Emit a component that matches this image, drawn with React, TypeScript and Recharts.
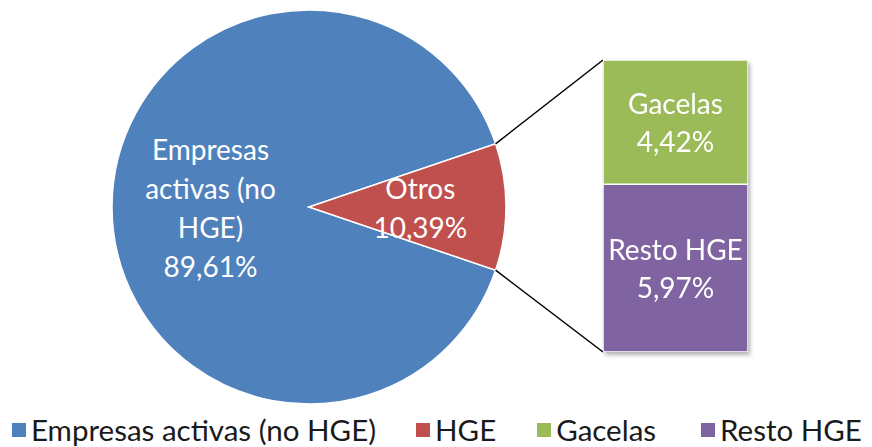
import React from 'react';
import { PieChart, Pie, Cell, BarChart, Bar, XAxis, YAxis, LabelList, Legend } from 'recharts';

const pieNames = ['Empresas activas (no HGE)', 'Otros'];
const pieValues = [89.61, 10.39];
const pieColors = ['#4F81BD', '#C0504D'];

const barNames = ['Gacelas', 'Resto HGE'];
const barValues = [4.42, 5.97];
const barColors = ['#9BBB59', '#8064A2'];

const legendNames = ['Empresas activas (no HGE)', 'HGE', 'Gacelas', 'Resto HGE'];
const legendColors = ['#4F81BD', '#C0504D', '#9BBB59', '#8064A2'];

const FONT = 'Lato, "Open Sans", sans-serif';
const W = 872;
const H = 447;
const CX = 309;
const CY = 207;
const R = 197;
const BAR_X = 603;
const BAR_Y = 60;
const BAR_W = 145;
const BAR_H = 292;

const pieData = pieNames.map((name, i) => ({ name, value: pieValues[i] }));
const barRow = { name: 'Otros', g: barValues[0], r: barValues[1] };
const fmt = (v: number) => v.toFixed(2).replace('.', ',') + '%';

const halfOtros = (pieValues[1] / 100) * 180;

const wrapLabel: Record<string, string[]> = {
  'Empresas activas (no HGE)': ['Empresas', 'activas (no', 'HGE)'],
  Otros: ['Otros'],
};

function PieLabel(props: any) {
  const { cx, cy, midAngle, outerRadius, name, value, percent } = props;
  const rad = (Math.PI / 180) * midAngle;
  const r = outerRadius * (percent > 0.5 ? 0.5 : 0.565);
  const x = cx + r * Math.cos(rad);
  const y = cy - r * Math.sin(rad);
  const lines = [...(wrapLabel[name] || [name]), fmt(value)];
  const lh = 39;
  const y0 = y - ((lines.length - 1) * lh) / 2;
  return (
    <text x={x} y={y0} fill="#fff" fontSize={28} fontFamily={FONT} textAnchor="middle" dominantBaseline="central">
      {lines.map((l, i) => (
        <tspan key={i} x={x} y={y0 + i * lh}>
          {l}
        </tspan>
      ))}
    </text>
  );
}

function BarLabel(name: string) {
  return (props: any) => {
    const { x, y, width, height, value } = props;
    const mx = x + width / 2;
    const my = y + height / 2;
    return (
      <text x={mx} fill="#fff" fontSize={28} fontFamily={FONT} textAnchor="middle" dominantBaseline="central">
        <tspan x={mx} y={my - 19}>{name}</tspan>
        <tspan x={mx} y={my + 19}>{fmt(value)}</tspan>
      </text>
    );
  };
}

const legendGaps = [40, 41, 45, 0];

function LegendContent() {
  return (
    <div style={{ display: 'flex', alignItems: 'center', fontFamily: FONT, fontSize: 29.5, color: '#1a1a1a', whiteSpace: 'nowrap' }}>
      {legendNames.map((n, i) => (
        <div key={n} style={{ display: 'flex', alignItems: 'center', marginRight: legendGaps[i] }}>
          <span style={{ width: 14, height: 14, background: legendColors[i], display: 'inline-block', marginRight: 5 }} />
          <span>{n}</span>
        </div>
      ))}
    </div>
  );
}

export default function App() {
  const a1 = (Math.PI / 180) * halfOtros;
  const p1 = { x: CX + R * Math.cos(a1), y: CY - R * Math.sin(a1) };
  const p2 = { x: CX + R * Math.cos(a1), y: CY + R * Math.sin(a1) };
  return (
    <div style={{ position: 'absolute', left: 0, top: 0, width: W, height: H, background: '#fff' }}>
      <PieChart width={W} height={H} margin={{ top: 0, right: 0, bottom: 0, left: 0 }} style={{ position: 'absolute', left: 0, top: 0 }}>
        <Pie
          data={pieData}
          dataKey="value"
          nameKey="name"
          cx={CX}
          cy={CY}
          outerRadius={R}
          startAngle={halfOtros}
          endAngle={halfOtros + 360}
          stroke="#fff"
          strokeWidth={1.5}
          label={PieLabel}
          labelLine={false}
          isAnimationActive={false}
        >
          {pieData.map((d, i) => (
            <Cell key={d.name} fill={pieColors[i]} />
          ))}
        </Pie>
        <Legend
          content={LegendContent}
          wrapperStyle={{ position: 'absolute', left: 12, top: 412, width: 860 }}
        />
      </PieChart>
      <svg width={W} height={H} style={{ position: 'absolute', left: 0, top: 0, pointerEvents: 'none' }}>
        <line x1={p1.x} y1={p1.y} x2={BAR_X} y2={BAR_Y} stroke="#000" strokeWidth={1.5} />
        <line x1={p2.x} y1={p2.y} x2={BAR_X} y2={BAR_Y + BAR_H} stroke="#000" strokeWidth={1.5} />
      </svg>
      <div style={{ position: 'absolute', left: BAR_X, top: BAR_Y, filter: 'drop-shadow(2px 3px 2px rgba(0,0,0,0.3))' }}>
        <BarChart width={BAR_W} height={BAR_H} data={[barRow]} margin={{ top: 0, right: 0, bottom: 0, left: 0 }} barCategoryGap={0}>
          <XAxis dataKey="name" hide />
          <YAxis hide domain={[0, barValues[0] + barValues[1]]} />
          <Bar dataKey="r" stackId="a" fill={barColors[1]} stroke="#fff" strokeWidth={1.5} isAnimationActive={false}>
            <LabelList dataKey="r" content={BarLabel(barNames[1])} />
          </Bar>
          <Bar dataKey="g" stackId="a" fill={barColors[0]} stroke="#fff" strokeWidth={1.5} isAnimationActive={false}>
            <LabelList dataKey="g" content={BarLabel(barNames[0])} />
          </Bar>
        </BarChart>
      </div>
    </div>
  );
}
